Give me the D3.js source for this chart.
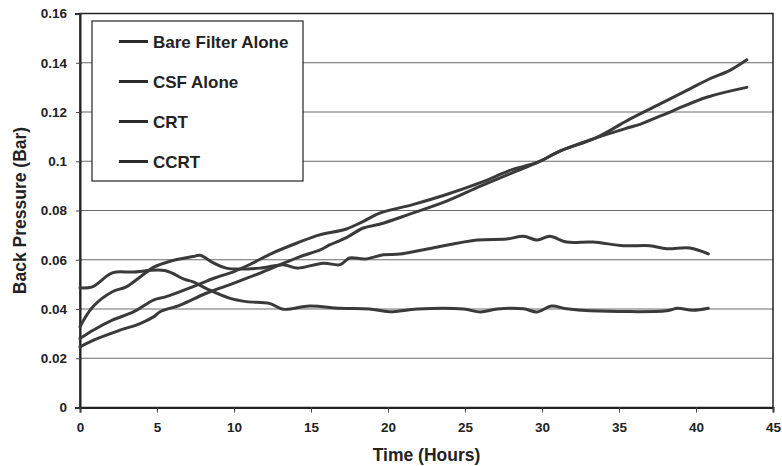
<!DOCTYPE html>
<html>
<head>
<meta charset="utf-8">
<script src="https://cdn.jsdelivr.net/npm/d3@7"></script>
<style>
  body { margin: 0; background: #fff; }
  svg { font-family: "Liberation Sans", Arial, sans-serif; font-weight: bold; }
</style>
</head>
<body>
<div id="container"></div>
<script>
const width = 782;
const height = 466;

// plot area (px)
const plotL = 80, plotR = 773, plotT = 13.5, plotB = 407.5;

// series values, hours vs back pressure (bar)
const bareHours = [0, 0.85, 2.6, 3.9, 4.8, 5.2, 6.5, 8.2, 10, 11.7, 13, 14.3, 15.6, 16.2, 17.3, 18.4, 19.5, 21.4, 23.8, 26, 28.1, 29.7, 31.2, 33.5, 35.7, 37.9, 39.6, 40.9, 42.2, 43.3];
const bareBar   = [0.0246, 0.0273, 0.0314, 0.0341, 0.0369, 0.0389, 0.0416, 0.0464, 0.0505, 0.0546, 0.058, 0.0613, 0.064, 0.066, 0.069, 0.0729, 0.0745, 0.0785, 0.0838, 0.0899, 0.0954, 0.0995, 0.1042, 0.1095, 0.1171, 0.124, 0.1294, 0.1335, 0.1369, 0.1412];

const csfHours = [0, 0.85, 2.1, 3.5, 4.8, 5.6, 7.35, 8.7, 10, 11.2, 12.5, 14.1, 15.5, 17.3, 18.4, 19.5, 21.6, 23.8, 26, 28.1, 29.7, 31.2, 33.5, 35.7, 36.4, 38.5, 40.7, 43.3];
const csfBar   = [0.028, 0.0314, 0.0355, 0.0389, 0.0437, 0.045, 0.0491, 0.0525, 0.0552, 0.0586, 0.0627, 0.0668, 0.070, 0.0725, 0.0756, 0.079, 0.0824, 0.0865, 0.0913, 0.0967, 0.0995, 0.1042, 0.1095, 0.1138, 0.1151, 0.1205, 0.126, 0.130];

const crtHours = [0, 0.85, 2.1, 3, 3.9, 4.8, 5.8, 7.35, 7.8, 8.7, 9.5, 11.7, 13.2, 14.1, 15.8, 16.9, 17.5, 18.5, 19.7, 20.8, 22.9, 25.8, 27.7, 28.8, 29.7, 30.5, 31.6, 33.3, 35.3, 37, 38.1, 39.6, 40.8];
const crtBar   = [0.0328, 0.041, 0.047, 0.049, 0.053, 0.057, 0.0593, 0.0613, 0.0618, 0.0586, 0.0566, 0.0566, 0.058, 0.0566, 0.0586, 0.058, 0.0607, 0.0603, 0.062, 0.0623, 0.0648, 0.068, 0.0684, 0.0695, 0.068, 0.0695, 0.0672, 0.0672, 0.0657, 0.0657, 0.0645, 0.0648, 0.0624];

const ccrtHours = [0, 0.8, 2.1, 3.4, 5.5, 6.8, 7.35, 8.3, 9.7, 10.8, 12.3, 13.2, 14.9, 16.9, 18.8, 20.1, 21.9, 24.9, 26, 27.1, 28.8, 29.7, 30.6, 31.6, 33.1, 38.1, 38.8, 39.8, 40.8];
const ccrtBar   = [0.0486, 0.049, 0.0547, 0.055, 0.0556, 0.052, 0.051, 0.048, 0.0444, 0.043, 0.0423, 0.0399, 0.0412, 0.0403, 0.040, 0.0389, 0.040, 0.040, 0.0388, 0.040, 0.0401, 0.0388, 0.0412, 0.0401, 0.0393, 0.0393, 0.0403, 0.0395, 0.0403];

const seriesNames = ["Bare Filter Alone", "CSF Alone", "CRT", "CCRT"];
const xTicks = [0, 5, 10, 15, 20, 25, 30, 35, 40, 45];
const yTicks = [0, 0.02, 0.04, 0.06, 0.08, 0.1, 0.12, 0.14, 0.16];
const yTickLabels = ["0", "0.02", "0.04", "0.06", "0.08", "0.1", "0.12", "0.14", "0.16"];

const series = [
  { name: seriesNames[0], h: bareHours, v: bareBar },
  { name: seriesNames[1], h: csfHours, v: csfBar },
  { name: seriesNames[2], h: crtHours, v: crtBar },
  { name: seriesNames[3], h: ccrtHours, v: ccrtBar }
];

const x = d3.scaleLinear().domain([0, 45]).range([plotL, plotR]);
const y = d3.scaleLinear().domain([0, 0.16]).range([plotB, plotT]);

const svg = d3.select("#container").append("svg")
  .attr("width", width)
  .attr("height", height);

// gridlines
svg.append("g")
  .selectAll("line")
  .data(yTicks.slice(1, -1))
  .join("line")
  .attr("x1", plotL).attr("x2", plotR)
  .attr("y1", d => y(d)).attr("y2", d => y(d))
  .attr("stroke", "#6a6a6a")
  .attr("stroke-width", 1);

// plot frame
svg.append("rect")
  .attr("x", plotL).attr("y", plotT)
  .attr("width", plotR - plotL).attr("height", plotB - plotT)
  .attr("fill", "none")
  .attr("stroke", "#222")
  .attr("stroke-width", 1.5);

// axes
const xAxis = svg.append("g")
  .attr("transform", `translate(0,${plotB})`)
  .call(d3.axisBottom(x).tickValues(xTicks).tickSize(5).tickPadding(10).tickFormat(d3.format("d")));

const yAxis = svg.append("g")
  .attr("transform", `translate(${plotL},0)`)
  .call(d3.axisLeft(y).tickValues(yTicks).tickSize(5).tickPadding(8).tickFormat((d, i) => yTickLabels[i]));

[xAxis, yAxis].forEach(a => {
  a.select(".domain").attr("stroke", "#222").attr("stroke-width", 2);
  a.selectAll(".tick line").attr("stroke", "#444");
  a.selectAll(".tick text")
    .attr("fill", "#222")
    .style("font-size", "13.5px")
    .style("font-weight", "bold")
    .style("font-family", "'Liberation Sans', Arial, sans-serif");
});
yAxis.selectAll(".tick line").attr("x2", 2).attr("x1", -4);

// lines
const line = d3.line()
  .x(d => x(d[0]))
  .y(d => y(d[1]))
  .curve(d3.curveCatmullRom.alpha(0.5));

svg.append("g")
  .selectAll("path")
  .data(series)
  .join("path")
  .attr("d", s => line(s.h.map((h, i) => [h, s.v[i]])))
  .attr("fill", "none")
  .attr("stroke", "#3a3a3a")
  .attr("stroke-width", 3)
  .attr("stroke-linejoin", "round")
  .attr("stroke-linecap", "round");

// legend
const legend = svg.append("g");
legend.append("rect")
  .attr("x", 92).attr("y", 21)
  .attr("width", 211).attr("height", 160)
  .attr("fill", "#fff")
  .attr("stroke", "#222")
  .attr("stroke-width", 1.2);

series.forEach((s, i) => {
  const ly = 41.5 + i * 40;
  legend.append("line")
    .attr("x1", 119).attr("x2", 148)
    .attr("y1", ly).attr("y2", ly)
    .attr("stroke", "#2a2a2a")
    .attr("stroke-width", 3);
  legend.append("text")
    .attr("x", 153).attr("y", ly)
    .attr("dy", "0.36em")
    .attr("fill", "#222")
    .style("font-size", "17px")
    .text(s.name);
});

// axis titles
svg.append("text")
  .attr("x", (plotL + plotR) / 2)
  .attr("y", 461)
  .attr("text-anchor", "middle")
  .attr("fill", "#222")
  .style("font-size", "17.5px")
  .text("Time (Hours)");

svg.append("text")
  .attr("transform", `translate(26,${(plotT + plotB) / 2}) rotate(-90)`)
  .attr("text-anchor", "middle")
  .attr("fill", "#222")
  .style("font-size", "17.5px")
  .text("Back Pressure (Bar)");
</script>
</body>
</html>
